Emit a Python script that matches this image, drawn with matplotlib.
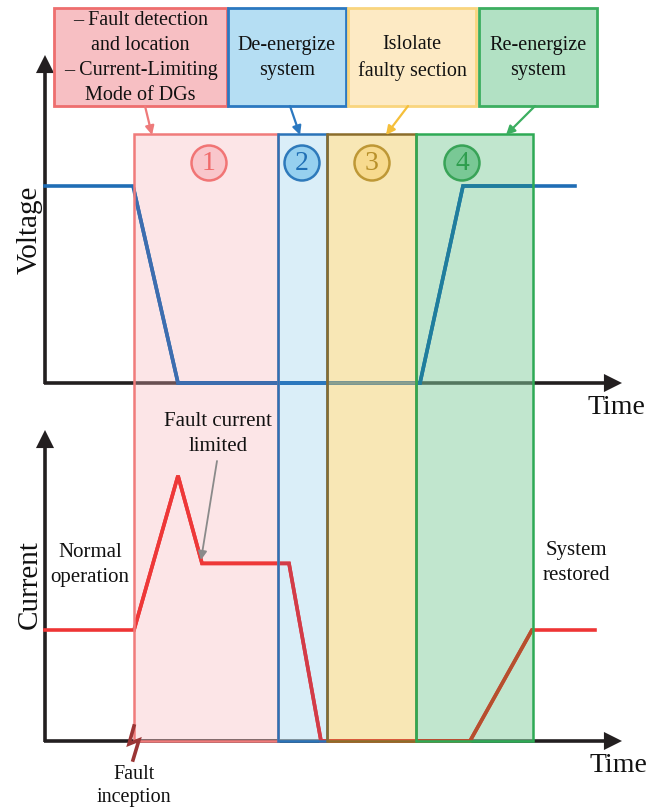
import matplotlib
matplotlib.use('Agg')
import matplotlib.pyplot as plt
from matplotlib.patches import Rectangle, Circle, FancyArrowPatch

plt.rcParams['font.family'] = ['Liberation Serif', 'DejaVu Serif']

# ---------------- data ----------------
volt_t = [45, 133, 178, 420, 463, 575]          # time (px-scale units)
volt_v = [1, 1, 0, 0, 1, 1]                      # per-unit voltage
curr_t = [45, 134, 178, 202, 289, 321, 470, 532, 595]
curr_i = [1.0, 1.0, 2.39, 1.6, 1.6, 0.0, 0.0, 1.0, 1.0]  # per-unit current
phase_edges = [134, 278, 327, 416, 533]
phase_labels = ['1', '2', '3', '4']
box_texts = ['– Fault detection\nand location\n– Current-Limiting\nMode of DGs',
             'De-energize\nsystem', 'Islolate\nfaulty section', 'Re-energize\nsystem']

# ---------------- styles / layout ----------------
W, H = 659, 810
phase_face = ['#f6b2b8', '#b7dff3', '#f3d16d', '#85cf9f']
phase_alpha = [0.33, 0.5, 0.5, 0.5]
phase_edge = ['#f07b7b', '#2a73b8', '#8b6d2b', '#2eaa55']
volt_tint = ['#3e6daf', '#2a78bf', '#8a9f8e', '#1f7e9c']
curr_tint = ['#ee3838', '#d23c48', '#d9603a', '#b5502e']
circ_face = ['#f9c3c8', '#8fcdef', '#f7d98a', '#72c58f']
circ_edge = ['#f06a6a', '#1f6fb5', '#b8902a', '#2e9e4e']
box_x = [(54, 227), (228, 346), (348, 476), (479, 597)]
box_face = ['#f7bfc3', '#b5def3', '#fdeac4', '#b2e1c4']
box_edge = ['#ee6e6e', '#2b78c0', '#f9d57e', '#3cae60']
arrow_col = ['#ee7a7a', '#2b78c0', '#f5bf3a', '#3cae60']
arrow_src = [(145, 106), (290, 106), (408, 106), (535, 106)]
arrow_dst = [(152, 135), (300, 135), (386, 135), (506, 135)]
blue = '#1f6db5'
red = '#ee3535'
dark = '#231f20'

fig = plt.figure(figsize=(W / 100, H / 100), dpi=100)

def pix_axes(z):
    a = fig.add_axes([0, 0, 1, 1], zorder=z)
    a.set_xlim(0, W); a.set_ylim(H, 0); a.axis('off'); a.patch.set_alpha(0)
    return a

# background: axes arrows and labels
ax_bg = pix_axes(0)

def axis_arrow(ax, p0, p1):
    ax.add_patch(FancyArrowPatch(p0, p1, arrowstyle='-|>', mutation_scale=22,
                                 lw=2.6, color=dark, shrinkA=0, shrinkB=0,
                                 joinstyle='miter', capstyle='butt'))

axis_arrow(ax_bg, (45, 384), (45, 55))
axis_arrow(ax_bg, (44, 383), (622, 383))
axis_arrow(ax_bg, (45, 742), (45, 430))
axis_arrow(ax_bg, (44, 741), (622, 741))

ax_bg.text(30, 230, 'Voltage', rotation=90, ha='center', va='center', fontsize=21, color='#111')
ax_bg.text(30, 585, 'Current', rotation=90, ha='center', va='center', fontsize=21, color='#111')
ax_bg.text(616, 407, 'Time', ha='center', va='center', fontsize=20, color='#111')
ax_bg.text(618, 765, 'Time', ha='center', va='center', fontsize=20, color='#111')

# phase fills
ax_fill = pix_axes(1)
for i in range(4):
    x0, x1 = phase_edges[i], phase_edges[i + 1]
    ax_fill.add_patch(Rectangle((x0, 134), x1 - x0, 741 - 134, facecolor=phase_face[i],
                                alpha=phase_alpha[i], edgecolor='none'))

# voltage axes: v=0 at y=383 px, v=1 at y=186 px
vu = 197.0
ax_v = fig.add_axes([0, 1 - (383 + 0.3 * vu) / H, 1, 1.6 * vu / H], zorder=2)
ax_v.set_xlim(0, W); ax_v.set_ylim(-0.3, 1.3); ax_v.axis('off'); ax_v.patch.set_alpha(0)
ax_v.plot(volt_t, volt_v, color=blue, lw=2.6, solid_joinstyle='miter')

# current axes: i=0 at y=741 px, i=1 at y=630 px
cu = 111.0
ax_c = fig.add_axes([0, 1 - (741 + 0.3 * cu) / H, 1, 3.0 * cu / H], zorder=2)
ax_c.set_xlim(0, W); ax_c.set_ylim(-0.3, 2.7); ax_c.axis('off'); ax_c.patch.set_alpha(0)
ax_c.plot(curr_t, curr_i, color=red, lw=2.6, solid_joinstyle='miter')

for i in range(4):
    x0, x1 = phase_edges[i], phase_edges[i + 1]
    lv, = ax_v.plot(volt_t, volt_v, color=volt_tint[i], lw=2.6, solid_joinstyle='miter')
    lv.set_clip_path(Rectangle((x0, -5), x1 - x0, 10, transform=ax_v.transData))
    lc, = ax_c.plot(curr_t, curr_i, color=curr_tint[i], lw=2.6, solid_joinstyle='miter')
    lc.set_clip_path(Rectangle((x0, -5), x1 - x0, 10, transform=ax_c.transData))

# top layer
ax = pix_axes(3)
for i in range(4):
    x0, x1 = phase_edges[i], phase_edges[i + 1]
    ax.add_patch(Rectangle((x0, 134), x1 - x0, 741 - 134, facecolor='none',
                           edgecolor=phase_edge[i], lw=1.8))

circ_x = [209, 302, 372, 462]
for i in range(4):
    ax.add_patch(Circle((circ_x[i], 163), 17.5, facecolor=circ_face[i],
                        edgecolor=circ_edge[i], lw=1.8, alpha=0.9))
    ax.text(circ_x[i], 164, phase_labels[i], ha='center', va='center',
            fontsize=20, color=circ_edge[i])

for i in range(4):
    a, b = box_x[i]
    ax.add_patch(Rectangle((a, 8), b - a, 98, facecolor=box_face[i],
                           edgecolor=box_edge[i], lw=2))
    ax.text((a + b) / 2, 58, box_texts[i], ha='center', va='center',
            fontsize=14.5, color='#111', linespacing=1.42)
    ax.add_patch(FancyArrowPatch(arrow_src[i], arrow_dst[i], arrowstyle='-|>',
                                 mutation_scale=13, lw=1.6, color=arrow_col[i],
                                 shrinkA=0, shrinkB=0))

# annotations
ax.text(90, 565, 'Normal\noperation', ha='center', va='center', fontsize=15, color='#111', linespacing=1.37)
ax.text(218, 434, 'Fault current\nlimited', ha='center', va='center', fontsize=15, color='#111', linespacing=1.37)
ax.text(576, 563, 'System\nrestored', ha='center', va='center', fontsize=15, color='#111', linespacing=1.37)
ax.text(134, 786, 'Fault\ninception', ha='center', va='center', fontsize=14.5, color='#111', linespacing=1.3)
ax.add_patch(FancyArrowPatch((217, 461), (201, 560), arrowstyle='-|>', mutation_scale=13,
                             lw=1.3, color='#8a8a8a', shrinkA=0, shrinkB=0))
ax.plot([134, 129, 139, 133], [726, 744, 740, 760], color='#9b3535', lw=2.6,
        solid_joinstyle='miter')

fig.savefig('out.png', dpi=100)
